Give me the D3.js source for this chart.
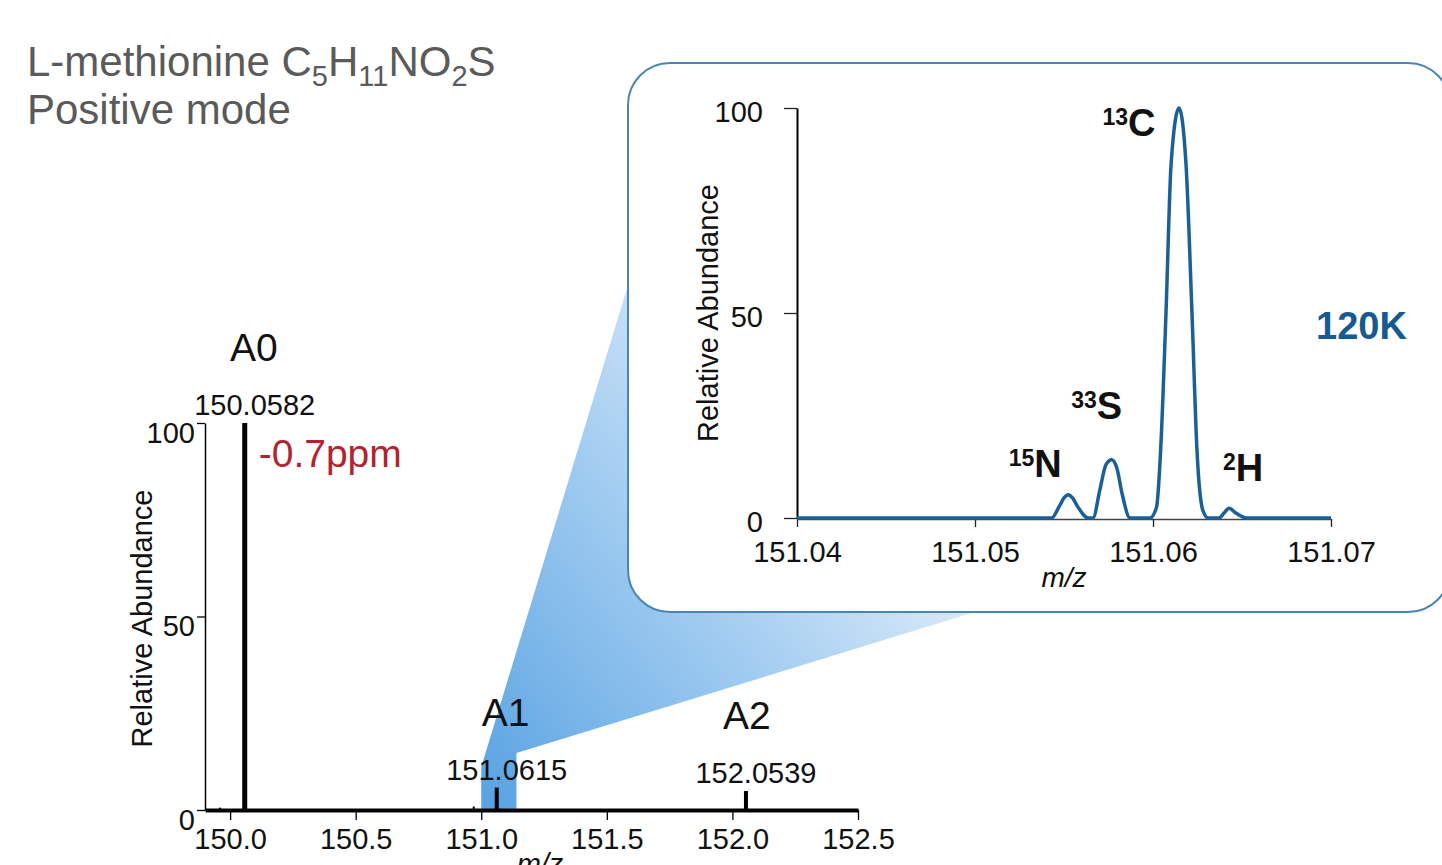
<!DOCTYPE html>
<html><head><meta charset="utf-8">
<script src="https://cdn.jsdelivr.net/npm/d3@7"></script>
<style>
body{margin:0;background:#fff;}
svg{display:block;font-family:"Liberation Sans",Arial,Helvetica,sans-serif;}
</style>
</head><body>
<svg id="c" width="1442" height="865"></svg>
<script>
// ---------- data: main spectrum (stick peaks) ----------
const mainMz    = [149.96, 150.0582, 150.97, 151.0615, 152.0539];
const mainAbund = [0.6,    100,      0.9,    5.8,      4.9];
const peakNames  = ["A0", "A1", "A2"];
const peakMz     = [150.0582, 151.0615, 152.0539];
const peakAbund  = [100, 5.8, 4.9];
const peakLabels = ["150.0582", "151.0615", "152.0539"];
const massError  = "-0.7ppm";
const mainXTicks = [150.0, 150.5, 151.0, 151.5, 152.0, 152.5];
const mainYTicks = [0, 50, 100];
const zoomWindow = [151.0, 151.14];

// ---------- data: inset profile (A1 fine structure) ----------
const profileMz = [151.0400, 151.05431, 151.05474, 151.05500, 151.05524, 151.05548, 151.05575, 151.05637,
                   151.05663, 151.05702, 151.05736, 151.05768, 151.05798, 151.05826, 151.05871,
                   151.05983, 151.06020, 151.06043, 151.06073, 151.06102, 151.06146, 151.06185,
                   151.06219, 151.06247, 151.06279, 151.06309,
                   151.06371, 151.06399, 151.06427, 151.06466, 151.06526, 151.0700];
const profileAbund = [0, 0, 2.9, 4.9, 5.7, 4.9, 2.9, 0,
                      0, 7.0, 13.0, 14.2, 12.0, 6.0, 0,
                      0, 2.7, 16.6, 50, 86.6, 100, 86.6,
                      50, 16.6, 2.0, 0,
                      0, 1.2, 2.4, 1.2, 0, 0];
const insetXTicks = [151.04, 151.05, 151.06, 151.07];
const insetYTicks = [0, 50, 100];
const isoMass  = ["15", "33", "13", "2"];
const isoElem  = ["N", "S", "C", "H"];
const isoMz    = [151.05524, 151.05768, 151.06146, 151.06427];
const isoAbund = [5.7, 14.2, 100, 2.4];
const resolution = "120K";
const titleParts = [["L-methionine C",0],["5",1],["H",0],["11",1],["NO",0],["2",1],["S",0]];
const subtitle = "Positive mode";

// ---------- layout ----------
const isoDx = [-33, -15, -50, 14];
const isoDy = [-18, -41, 28, -27];

const svg = d3.select("#c");
const xMain = d3.scaleLinear([149.9, 152.5], [205, 858]);
const yMain = d3.scaleLinear([0, 100], [810, 423]);
const xIn = d3.scaleLinear([151.04, 151.07], [797, 1331]);
const yIn = d3.scaleLinear([0, 100], [518, 108]);

// gradient
const defs = svg.append("defs");
const grad = defs.append("linearGradient").attr("id", "wg")
  .attr("gradientUnits", "userSpaceOnUse")
  .attr("x1", 480).attr("y1", 790).attr("x2", 930).attr("y2", 430);
grad.append("stop").attr("offset", 0).attr("stop-color", "#5aa3e2");
grad.append("stop").attr("offset", 0.45).attr("stop-color", "#9ac8ef");
grad.append("stop").attr("offset", 1).attr("stop-color", "#eef5fc");

// zoom wedge
const bx0 = xMain(zoomWindow[0]), bx1 = xMain(zoomWindow[1]);
const boxX = 628, boxY = 63, boxW = 822, boxH = 549;
svg.append("path").attr("fill", "url(#wg)")
  .attr("d", d3.line()([[bx0, yMain(0)], [bx0, 767], [boxX, 285], [975, boxY + boxH], [bx1, 753], [bx1, yMain(0)]]) + "Z");

// inset box
svg.append("rect").attr("x", boxX).attr("y", boxY).attr("width", boxW).attr("height", boxH)
  .attr("rx", 42).attr("ry", 42).attr("fill", "#fff").attr("stroke", "#4a85b5").attr("stroke-width", 2);

// title
const t1 = svg.append("text").attr("x", 27).attr("y", 76).attr("fill", "#5a5a5a").attr("font-size", 42);
let prevSub = 0;
titleParts.forEach(([s, sub]) => {
  const dy = (sub ? 10 : 0) - (prevSub ? 10 : 0);
  t1.append("tspan").attr("dy", dy).attr("font-size", sub ? 29 : 42).text(s);
  prevSub = sub;
});
svg.append("text").attr("x", 27).attr("y", 124).attr("fill", "#5a5a5a").attr("font-size", 42).text(subtitle);

// ---------- main chart ----------
const gx = svg.append("g").attr("transform", `translate(0,${yMain(0)})`)
  .call(d3.axisBottom(xMain).tickValues(mainXTicks).tickFormat(d3.format(".1f")).tickSize(10).tickSizeOuter(0));
gx.select(".domain").attr("stroke", "#000").attr("stroke-width", 4);
gx.selectAll(".tick line").attr("stroke", "#000").attr("stroke-width", 1.3);
gx.selectAll("text").attr("font-size", 29).attr("fill", "#111").attr("y", 18).attr("font-family", null);
gx.attr("font-family", null);

const gy = svg.append("g").attr("transform", `translate(${xMain.range()[0]},0)`)
  .call(d3.axisLeft(yMain).tickValues(mainYTicks).tickSize(8).tickSizeOuter(0));
gy.select(".domain").attr("stroke", "#000").attr("stroke-width", 1.5);
gy.selectAll(".tick line").attr("stroke", "#000").attr("stroke-width", 1.3);
gy.selectAll("text").attr("font-size", 29).attr("fill", "#111").attr("x", -10).attr("dy", "0.66em");
gy.attr("font-family", null);

svg.append("text").attr("transform", `translate(152,${(yMain(0) + yMain(100)) / 2 + 2}) rotate(-90)`)
  .attr("text-anchor", "middle").attr("font-size", 29).attr("fill", "#111").text("Relative Abundance");
svg.append("text").attr("x", 540).attr("y", 874).attr("text-anchor", "middle")
  .attr("font-size", 29).attr("font-style", "italic").attr("fill", "#111").text("m/z");

// sticks
svg.append("g").selectAll("line").data(mainMz).join("line")
  .attr("x1", d => xMain(d)).attr("x2", d => xMain(d))
  .attr("y1", yMain(0)).attr("y2", (d, i) => yMain(mainAbund[i]))
  .attr("stroke", "#000").attr("stroke-width", (d, i) => mainAbund[i] >= 50 ? 5 : (mainAbund[i] > 2 ? 4 : 2));

// peak labels
peakMz.forEach((m, i) => {
  const x = xMain(m) + 10, ytop = yMain(peakAbund[i]);
  svg.append("text").attr("x", x).attr("y", ytop - 8).attr("text-anchor", "middle")
    .attr("font-size", 29).attr("fill", "#111").text(peakLabels[i]);
  svg.append("text").attr("x", x - (i === 2 ? 9 : 1)).attr("y", ytop - 62).attr("text-anchor", "middle")
    .attr("font-size", 39).attr("fill", "#111").text(peakNames[i]);
});
svg.append("text").attr("x", xMain(peakMz[0]) + 14).attr("y", 467)
  .attr("font-size", 39).attr("fill", "#b3232f").text(massError);

// ---------- inset ----------
const ix = svg.append("g").attr("transform", `translate(0,${yIn(0) + 1})`)
  .call(d3.axisBottom(xIn).tickValues(insetXTicks).tickFormat(d3.format(".2f")).tickSize(8).tickSizeOuter(0));
ix.attr("font-family", null);
ix.select(".domain").attr("stroke", "#444").attr("stroke-width", 1.5);
ix.selectAll(".tick line").attr("stroke", "#222").attr("stroke-width", 1.3);
ix.selectAll("text").attr("font-size", 29).attr("fill", "#111").attr("y", 22);

const iy = svg.append("g").attr("transform", `translate(${xIn.range()[0]},0)`)
  .call(d3.axisLeft(yIn).tickValues(insetYTicks).tickSize(13).tickSizeOuter(0));
iy.attr("font-family", null);
iy.select(".domain").attr("stroke", "#000").attr("stroke-width", 2);
iy.selectAll(".tick line").attr("stroke", "#222").attr("stroke-width", 1.3);
iy.selectAll("text").attr("font-size", 29).attr("fill", "#111").attr("x", -34).attr("dy", "0.45em");

svg.append("text").attr("transform", `translate(718,${(yIn(0) + yIn(100)) / 2}) rotate(-90)`)
  .attr("text-anchor", "middle").attr("font-size", 29).attr("fill", "#111").text("Relative Abundance");
svg.append("text").attr("x", (xIn.range()[0] + xIn.range()[1]) / 2).attr("y", 587).attr("text-anchor", "middle")
  .attr("font-size", 28).attr("font-style", "italic").attr("fill", "#111").text("m/z");

const pts = profileMz.map((m, i) => [xIn(m), yIn(profileAbund[i])]);
svg.append("path").attr("d", d3.line().curve(d3.curveMonotoneX)(pts))
  .attr("fill", "none").attr("stroke", "#1b5f98").attr("stroke-width", 3.5).attr("stroke-linejoin", "round");

isoMz.forEach((m, i) => {
  const t = svg.append("text").attr("x", xIn(m) + isoDx[i]).attr("y", yIn(isoAbund[i]) + isoDy[i])
    .attr("text-anchor", "middle").attr("font-weight", "bold").attr("fill", "#111");
  t.append("tspan").attr("font-size", 23).attr("dy", -11).text(isoMass[i]);
  t.append("tspan").attr("font-size", 38).attr("dy", 11).text(isoElem[i]);
});

svg.append("text").attr("x", 1316).attr("y", 339).attr("font-size", 38).attr("font-weight", "bold")
  .attr("fill", "#165a91").text(resolution);
</script>
</body></html>
